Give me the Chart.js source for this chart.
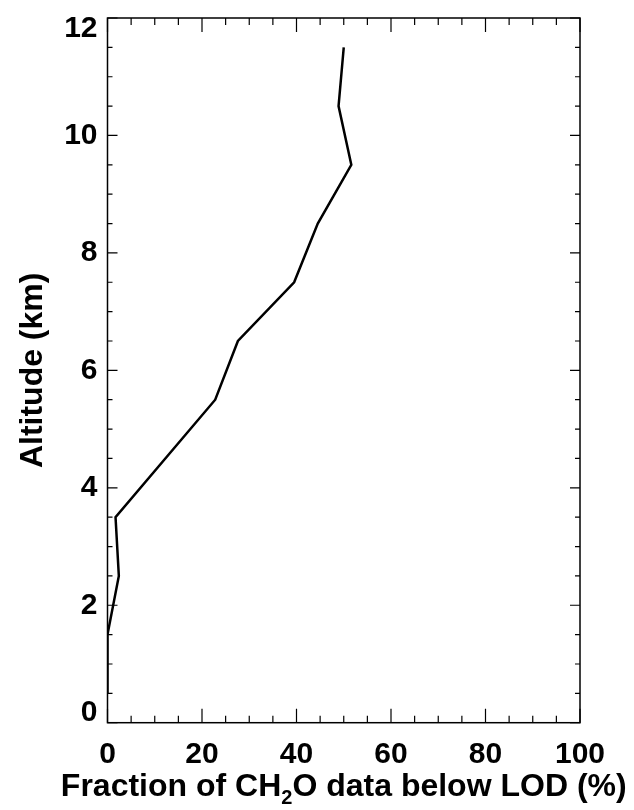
<!DOCTYPE html>
<html>
<head>
<meta charset="utf-8">
<script src="https://cdn.jsdelivr.net/npm/chart.js@4"></script>
<style>
  html, body { margin: 0; padding: 0; background: #fff; }
  #wrap { width: 634px; height: 810px; }
</style>
</head>
<body>
<div id="wrap"><canvas id="chart" width="634" height="810"></canvas></div>
<script>
// altitude bins (km) and fraction of CH2O data below LOD (%)
const altitude = [0.5, 1.5, 2.5, 3.5, 5.5, 6.5, 7.5, 8.5, 9.5, 10.5, 11.5];
const fraction = [0, 0, 2.4, 1.7, 22.8, 27.6, 39.5, 44.5, 51.6, 48.9, 50.0];

const xTicks = [0, 20, 40, 60, 80, 100];
const yTicks = [0, 2, 4, 6, 8, 10, 12];

const fontFamily = 'Liberation Sans, Arial, Helvetica, sans-serif';

const points = altitude.map((a, i) => ({ x: fraction[i], y: a }));

// IDL style box: axes on all four sides, ticks pointing inward
const boxAxes = {
    id: 'boxAxes',
    afterDatasetsDraw(chart) {
        const ctx = chart.ctx;
        const area = chart.chartArea;
        const xs = chart.scales.x;
        const ys = chart.scales.y;
        ctx.save();
        ctx.strokeStyle = '#000';
        ctx.lineWidth = 1.5;
        ctx.strokeRect(area.left, area.top, area.right - area.left, area.bottom - area.top);

        ctx.lineWidth = 1.2;
        ctx.beginPath();
        for (let v = 0; v <= 100; v += 5) {
            const px = xs.getPixelForValue(v);
            const len = (v % 20 === 0) ? 14 : 7;
            ctx.moveTo(px, area.bottom);
            ctx.lineTo(px, area.bottom - len);
            ctx.moveTo(px, area.top);
            ctx.lineTo(px, area.top + len);
        }
        for (let v = 0; v <= 12; v += 0.5) {
            const py = ys.getPixelForValue(v);
            const len = (v % 2 === 0) ? 10 : 5;
            ctx.moveTo(area.left, py);
            ctx.lineTo(area.left + len, py);
            ctx.moveTo(area.right, py);
            ctx.lineTo(area.right - len, py);
        }
        ctx.stroke();

        // y tick labels, end labels kept inside the axis span
        ctx.fillStyle = '#000';
        ctx.font = 'bold 30px ' + fontFamily;
        ctx.textAlign = 'right';
        ctx.textBaseline = 'middle';
        yTicks.forEach(v => {
            let py = ys.getPixelForValue(v);
            py = Math.min(Math.max(py, area.top + 11), area.bottom - 10);
            ctx.fillText(String(v), area.left - 10, py);
        });

        // x axis title with subscript
        const big = 'bold 32px ' + fontFamily;
        const small = 'bold 20px ' + fontFamily;
        const parts = [['Fraction of CH', big, 0], ['2', small, 8], ['O data below LOD (%)', big, 0]];
        let total = 0;
        parts.forEach(p => { ctx.font = p[1]; total += ctx.measureText(p[0]).width; });
        let x = (area.left + area.right) / 2 - total / 2;
        const base = 796;
        ctx.textBaseline = 'alphabetic';
        ctx.textAlign = 'left';
        parts.forEach(p => {
            ctx.font = p[1];
            ctx.fillText(p[0], x, base + p[2]);
            x += ctx.measureText(p[0]).width;
        });
        ctx.restore();
    }
};

new Chart(document.getElementById('chart'), {
    type: 'scatter',
    data: {
        datasets: [{
            data: points,
            showLine: true,
            borderColor: '#000',
            borderWidth: 2.5,
            pointRadius: 0,
            tension: 0
        }]
    },
    options: {
        responsive: false,
        animation: false,
        layout: { padding: { left: 0, right: 54, top: 18, bottom: 0 } },
        plugins: { legend: { display: false }, tooltip: { enabled: false } },
        scales: {
            x: {
                type: 'linear',
                min: 0,
                max: 100,
                afterBuildTicks: s => { s.ticks = xTicks.map(v => ({ value: v })); },
                afterFit: s => { s.height = 87.3; },
                grid: { display: false },
                border: { display: false },
                ticks: {
                    color: '#000',
                    padding: 6,
                    maxRotation: 0,
                    font: { family: fontFamily, size: 30, weight: 'bold' }
                }
            },
            y: {
                type: 'linear',
                min: 0,
                max: 12,
                afterBuildTicks: s => { s.ticks = yTicks.map(v => ({ value: v })); },
                afterFit: s => { s.width = 107.5; },
                grid: { display: false },
                border: { display: false },
                ticks: { display: false },
                title: {
                    display: true,
                    text: 'Altitude (km)',
                    color: '#000',
                    padding: { top: 14, bottom: 0 },
                    font: { family: fontFamily, size: 32, weight: 'bold' }
                }
            }
        }
    },
    plugins: [boxAxes]
});
</script>
</body>
</html>
